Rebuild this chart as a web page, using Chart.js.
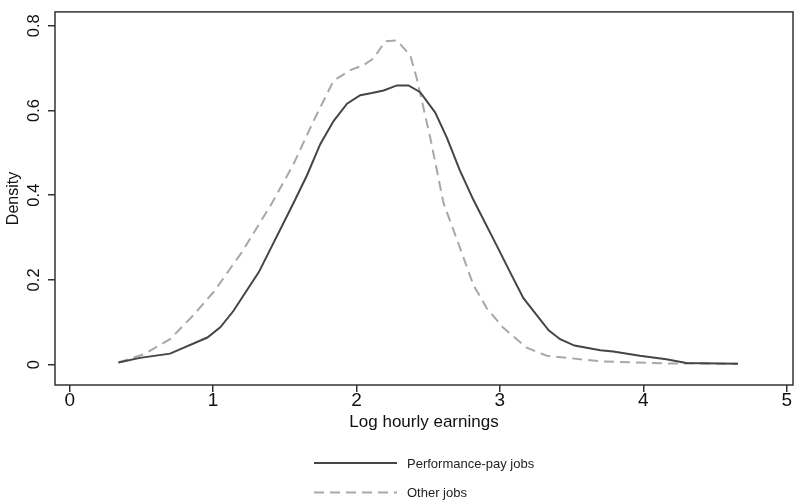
<!DOCTYPE html>
<html>
<head>
<meta charset="utf-8">
<script src="https://cdn.jsdelivr.net/npm/chart.js@4"></script>
<style>
  html, body { margin: 0; padding: 0; background: #fff; }
  #wrap { width: 794px; height: 501px; position: relative; }
</style>
</head>
<body>
<div id="wrap"><canvas id="grafica" width="794" height="501"></canvas></div>
<script>
// Log hourly earnings (x) and kernel density (y)
const perfX = [0.34, 0.49, 0.70, 0.96, 1.05, 1.14, 1.32, 1.56, 1.655, 1.748, 1.84, 1.934, 2.026, 2.108, 2.189, 2.282, 2.363, 2.444, 2.549, 2.63, 2.72, 2.815, 2.978, 3.07, 3.164, 3.34, 3.42, 3.52, 3.70, 3.79, 3.976, 4.16, 4.30, 4.66];
const perfY = [0.005, 0.016, 0.026, 0.064, 0.088, 0.126, 0.219, 0.381, 0.447, 0.521, 0.575, 0.616, 0.636, 0.641, 0.647, 0.659, 0.659, 0.643, 0.595, 0.536, 0.459, 0.389, 0.281, 0.219, 0.157, 0.081, 0.060, 0.045, 0.034, 0.031, 0.021, 0.013, 0.004, 0.002];

const otherX = [0.34, 0.52, 0.70, 0.866, 1.005, 1.20, 1.41, 1.562, 1.70, 1.84, 1.957, 2.05, 2.12, 2.20, 2.282, 2.375, 2.42, 2.514, 2.607, 2.70, 2.815, 2.909, 3.024, 3.187, 3.327, 3.70, 4.16, 4.66];
const otherY = [0.005, 0.025, 0.060, 0.118, 0.172, 0.265, 0.381, 0.474, 0.575, 0.670, 0.695, 0.707, 0.723, 0.763, 0.765, 0.730, 0.676, 0.536, 0.381, 0.296, 0.188, 0.133, 0.087, 0.040, 0.021, 0.008, 0.003, 0.002];

const xTicks = [0, 1, 2, 3, 4, 5];
const yTicks = [0, 0.2, 0.4, 0.6, 0.8];

const seriesLabels = ["Performance-pay jobs", "Other jobs"];

const FONT = "'Liberation Sans', Arial, Helvetica, sans-serif";
const INK = "#333333";

function pares(xs, ys) {
    return xs.map((x, i) => ({ x: x, y: ys[i] }));
}

// caja alrededor del area de la grafica
const cajaPlugin = {
    id: "caja",
    afterDatasetsDraw(chart) {
        const a = chart.chartArea;
        const ctx = chart.ctx;
        ctx.save();
        ctx.strokeStyle = INK;
        ctx.lineWidth = 1.5;
        ctx.strokeRect(a.left, a.top, a.right - a.left, a.bottom - a.top);
        ctx.restore();
    }
};

// leyenda en columna, debajo del titulo del eje x
const leyendaPlugin = {
    id: "leyendaColumna",
    afterDraw(chart) {
        const ctx = chart.ctx;
        ctx.save();
        ctx.font = "13px " + FONT;
        ctx.textBaseline = "middle";
        ctx.textAlign = "left";
        chart.data.datasets.forEach((ds, i) => {
            const y = 463 + i * 29.5;
            ctx.beginPath();
            ctx.strokeStyle = ds.borderColor;
            ctx.lineWidth = ds.borderWidth;
            ctx.setLineDash(ds.borderDash || []);
            ctx.moveTo(314, y);
            ctx.lineTo(397, y);
            ctx.stroke();
            ctx.setLineDash([]);
            ctx.fillStyle = "#222";
            ctx.fillText(ds.label, 407, y + 1);
        });
        ctx.restore();
    }
};

const ctx = document.getElementById("grafica").getContext("2d");

const chart = new Chart(ctx, {
    type: "line",
    data: {
        datasets: [
            {
                label: seriesLabels[0],
                data: pares(perfX, perfY),
                borderColor: "#454545",
                borderWidth: 2,
                pointRadius: 0,
                tension: 0,
                fill: false
            },
            {
                label: seriesLabels[1],
                data: pares(otherX, otherY),
                borderColor: "#a8a8a8",
                borderWidth: 2,
                borderDash: [10, 6],
                pointRadius: 0,
                tension: 0,
                fill: false
            }
        ]
    },
    options: {
        responsive: false,
        animation: false,
        layout: { padding: { top: 6, right: 1, bottom: 68, left: 0 } },
        plugins: {
            legend: { display: false },
            tooltip: { enabled: false }
        },
        scales: {
            x: {
                type: "linear",
                min: -0.1025,
                max: 5.044,
                afterFit: (s) => { s.height = 48; },
                afterBuildTicks: (s) => { s.ticks = xTicks.map(v => ({ value: v })); },
                border: { display: false },
                grid: { drawOnChartArea: false, drawTicks: true, tickLength: 7, color: INK, lineWidth: 1.5 },
                ticks: {
                    color: "#111",
                    font: { family: FONT, size: 19 },
                    padding: -3,
                    maxRotation: 0,
                    callback: (v) => String(v)
                },
                title: {
                    display: true,
                    text: "Log hourly earnings",
                    color: "#111",
                    font: { family: FONT, size: 17 },
                    padding: 0
                }
            },
            y: {
                type: "linear",
                min: -0.048,
                max: 0.8325,
                afterFit: (s) => { s.width = 55; },
                afterBuildTicks: (s) => { s.ticks = yTicks.map(v => ({ value: v })); },
                border: { display: false },
                grid: { drawOnChartArea: false, drawTicks: true, tickLength: 7, color: INK, lineWidth: 1.5 },
                ticks: {
                    color: "#111",
                    font: { family: FONT, size: 16.5 },
                    minRotation: 90,
                    maxRotation: 90,
                    crossAlign: "center",
                    padding: 2,
                    callback: (v) => (v === 0 ? "0" : v.toFixed(1))
                },
                title: {
                    display: true,
                    text: "Density",
                    color: "#111",
                    font: { family: FONT, size: 16 },
                    padding: { top: 4, bottom: 0 }
                }
            }
        }
    },
    plugins: [cajaPlugin, leyendaPlugin]
});
</script>
</body>
</html>
